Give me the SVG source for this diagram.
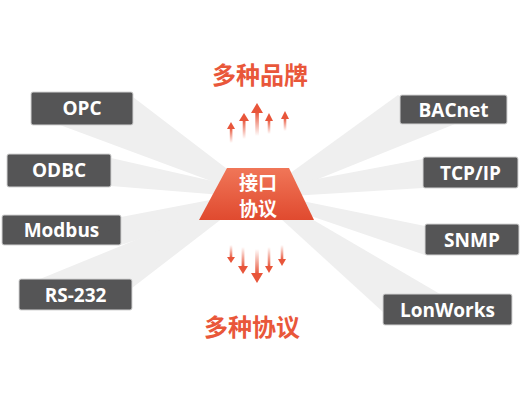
<svg xmlns="http://www.w3.org/2000/svg" width="520" height="410" viewBox="0 0 520 410">
<defs>
<style>
.box{fill:#555556;stroke:#d4d4d4;stroke-width:1}
.lbl{font-family:"Open Sans","Liberation Sans",sans-serif;font-weight:bold;font-size:19px;fill:#ffffff;text-anchor:middle}
.ray{fill:#efefef}
.title{font-family:"Noto Sans CJK SC","Noto Sans",sans-serif;font-weight:bold;font-size:24px;fill:#e9573a;text-anchor:middle}
.core{font-family:"Noto Sans CJK SC","Noto Sans",sans-serif;font-weight:bold;font-size:19px;fill:#ffffff;text-anchor:middle}
.head{fill:#e8553a}
</style>
<linearGradient id="trap" x1="0" y1="0" x2="0" y2="1">
<stop offset="0" stop-color="#f07658"/>
<stop offset="1" stop-color="#e04a2f"/>
</linearGradient>
<linearGradient id="up" x1="0" y1="0" x2="0" y2="1">
<stop offset="0" stop-color="#e8553a" stop-opacity="1"/>
<stop offset="1" stop-color="#e8553a" stop-opacity="0"/>
</linearGradient>
<linearGradient id="down" x1="0" y1="1" x2="0" y2="0">
<stop offset="0" stop-color="#e8553a" stop-opacity="1"/>
<stop offset="1" stop-color="#e8553a" stop-opacity="0"/>
</linearGradient>
</defs>
<rect width="520" height="410" fill="#ffffff"/>
<g id="connectors">
<polygon class="ray" points="252,188 133,97 60,125 262,200"/>
<polygon class="ray" points="252,190 111,158 111,186 258,198"/>
<polygon class="ray" points="252,192 121,217 121,245 258,200"/>
<polygon class="ray" points="254,194 132,288 40,279 258,190"/>
<polygon class="ray" points="256,198 398,95 455,124 266,200"/>
<polygon class="ray" points="258,190 423,159 423,188 258,198"/>
<polygon class="ray" points="258,192 425,226 425,255 258,198"/>
<polygon class="ray" points="262,190 440,294 383,312 256,196"/>
</g>
<g id="OPC"><rect class="box" x="31" y="92" width="102" height="33" rx="2"/><text class="lbl" x="82" y="115">OPC</text></g>
<g id="ODBC"><rect class="box" x="7" y="154" width="104" height="33" rx="2"/><text class="lbl" x="59" y="177">ODBC</text></g>
<g id="Modbus"><rect class="box" x="2" y="215" width="119" height="30" rx="2"/><text class="lbl" x="61.5" y="236.5">Modbus</text></g>
<g id="RS232"><rect class="box" x="19" y="279" width="113" height="31" rx="2"/><text class="lbl" x="75.5" y="301.5">RS-232</text></g>
<g id="BACnet"><rect class="box" x="400" y="95" width="107" height="29" rx="2"/><text class="lbl" x="453.5" y="116.5">BACnet</text></g>
<g id="TCPIP"><rect class="box" x="423" y="157" width="95" height="31" rx="2"/><text class="lbl" x="470.5" y="179.5">TCP/IP</text></g>
<g id="SNMP"><rect class="box" x="425" y="224" width="94" height="31" rx="2"/><text class="lbl" x="472" y="246.5">SNMP</text></g>
<g id="LonWorks"><rect class="box" x="383" y="294" width="129" height="31" rx="2"/><text class="lbl" x="447.5" y="316.5">LonWorks</text></g>
<g id="core">
<polygon points="227,168 289,168 314,220 199,220" fill="url(#trap)"/>
<text class="core" x="258" y="190">接口</text>
<text class="core" x="258" y="216">协议</text>
</g>
<g id="brands">
<text class="title" x="260" y="84">多种品牌</text>
<g id="up-arrows">
<rect x="229.8" y="128" width="2.6" height="15" fill="url(#up)"/><polygon class="head" points="231,122 235,129 227,129"/>
<rect x="242.7" y="120" width="2.8" height="19" fill="url(#up)"/><polygon class="head" points="244,113 249,121 239,121"/>
<rect x="255.3" y="112" width="3.6" height="24" fill="url(#up)"/><polygon class="head" points="257,103 263,113 251,113"/>
<rect x="267.7" y="120" width="2.6" height="14" fill="url(#up)"/><polygon class="head" points="269,113 273,121 265,121"/>
<rect x="283.7" y="118" width="2.6" height="13" fill="url(#up)"/><polygon class="head" points="285,111 289,119 281,119"/>
</g>
</g>
<g id="protocols">
<text class="title" x="252" y="336">多种协议</text>
<g id="down-arrows">
<rect x="229.7" y="245" width="2.6" height="13" fill="url(#down)"/><polygon class="head" points="231,263 235,257 227,257"/>
<rect x="241.6" y="247" width="2.8" height="20" fill="url(#down)"/><polygon class="head" points="243,274 248,266 238,266"/>
<rect x="255.2" y="249" width="3.6" height="25" fill="url(#down)"/><polygon class="head" points="257,283 263,273 251,273"/>
<rect x="267.7" y="247" width="2.6" height="20" fill="url(#down)"/><polygon class="head" points="269,273 273,266 265,266"/>
<rect x="280.7" y="245" width="2.6" height="15" fill="url(#down)"/><polygon class="head" points="282,266 286,259 278,259"/>
</g>
</g>
</svg>
